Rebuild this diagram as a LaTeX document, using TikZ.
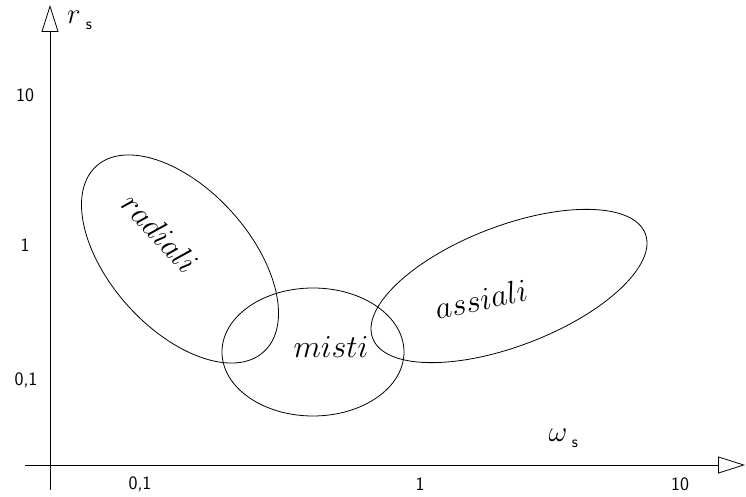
\RequirePackage{fix-cm}
\documentclass[tikz,border=0pt]{standalone}
\usetikzlibrary{arrows.meta}
\begin{document}
\begin{tikzpicture}[x=1pt,y=1pt,
  axis/.style={line width=0.8pt, -{Triangle[open,length=27pt,width=17pt,line width=0.8pt]}},
  region/.style={line width=0.8pt},
  tick/.style={font=\sffamily\fontsize{19}{19}\selectfont},
  lab/.style={font=\fontsize{32}{32}\selectfont},
  axlab/.style={font=\fontsize{29}{29}\selectfont},
  sub/.style={font=\sffamily\fontsize{17}{17}\selectfont}]
\useasboundingbox (0,0) rectangle (746,497);
\coordinate (yb) at (50,7);
\coordinate (yt) at (50,492);
\coordinate (xl) at (25,32);
\coordinate (xr) at (745,32);
\draw[axis] (yb) -- (yt);
\draw[axis] (xl) -- (xr);
\node[axlab] (rs) at (74,480) {$r$};
\node[sub] (rss) at (89,471) {s};
\node[axlab] (ws) at (558,62) {$\omega$};
\node[sub] (wss) at (575,53) {s};
\node[tick] (y10) at (25,402) {10};
\node[tick] (y1) at (25,252) {1};
\node[tick] (y01) at (26,117) {0,1};
\node[tick] (x01) at (140,13) {0,1};
\node[tick] (x1) at (420,13) {1};
\node[tick] (x10) at (680,13) {10};
\draw[region, rotate around={-48:(180,238)}] (180,238) ellipse [x radius=125, y radius=70];
\draw[region] (313,145) ellipse [x radius=91, y radius=64];
\draw[region, rotate around={21:(509,211)}] (509,211) ellipse [x radius=146, y radius=60];
\node[lab, rotate=-47] (rad) at (160,264) {$radiali$};
\node[lab] (mis) at (331,150) {$misti$};
\node[lab, rotate=12] (ass) at (481,198) {$assiali$};
\end{tikzpicture}
\end{document}
